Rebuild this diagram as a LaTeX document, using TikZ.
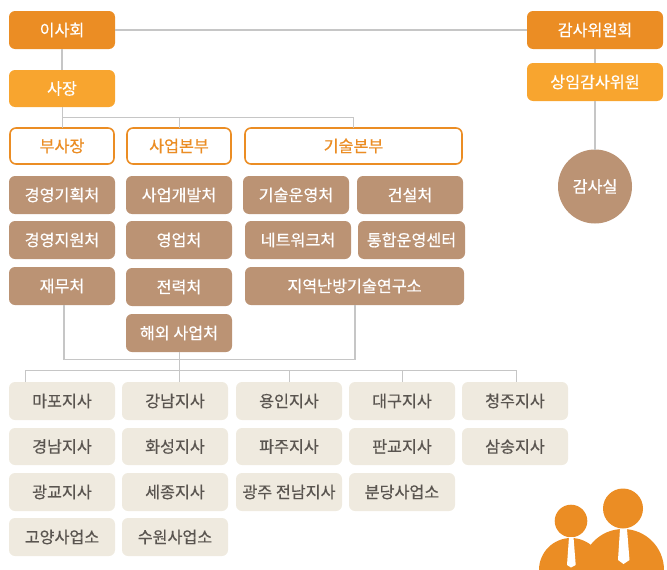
\documentclass[tikz,border=0pt]{standalone}
\usepackage{fontspec}
\setmainfont[RawFeature={embolden=0.5}]{Noto Sans CJK KR}
\definecolor{cdark}{HTML}{EB8D24}
\definecolor{clight}{HTML}{F8A52F}
\definecolor{cbrown}{HTML}{BB9374}
\definecolor{cpale}{HTML}{EFEADF}
\definecolor{cline}{HTML}{C6C6C6}
\definecolor{ctext}{HTML}{5A5550}
\tikzset{
 x=1pt,y=-1pt,
 lbl/.style={font=\fontsize{16.2}{17}\selectfont},
 base/.style={rectangle,rounded corners=6pt,inner sep=0pt,outer sep=0pt,lbl},
 dark/.style={base,fill=cdark,text=white},
 light/.style={base,fill=clight,text=white},
 brown/.style={base,fill=cbrown,text=white},
 pale/.style={base,fill=cpale,text=ctext},
 outl/.style={base,fill=white,draw=cdark,line width=1.6pt,text=cdark},
 conn/.style={draw=cline,line width=1.3pt},
 thin/.style={draw=cline,line width=1pt},
}
% name, x0, y0, x1, y1, style, text
\newcommand{\bx}[7]{\node[#6,minimum width=#4pt-#2pt,minimum height=#5pt-#3pt] (#1) at ({(#2+#4)/2},{(#3+#5)/2}) {\raisebox{-0.8pt}{#7}};}
\begin{document}
\begin{tikzpicture}
\useasboundingbox (0,0) rectangle (667,570);
\bx{isa}{9}{11}{115}{49}{dark}{이사회}
\bx{ceo}{9}{70}{115}{107}{light}{사장}
\bx{vp}{10}{128}{114}{164}{outl}{부사장}
\bx{biz}{127}{128}{231}{164}{outl}{사업본부}
\bx{tech}{245}{128}{462}{164}{outl}{기술본부}
\bx{a1}{9}{176}{115}{214}{brown}{경영기획처}
\bx{a2}{9}{221}{115}{259}{brown}{경영지원처}
\bx{a3}{9}{267}{115}{305}{brown}{재무처}
\bx{b1}{126}{176}{232}{214}{brown}{사업개발처}
\bx{b2}{126}{221}{232}{259}{brown}{영업처}
\bx{b3}{126}{268}{232}{306}{brown}{전력처}
\bx{b4}{126}{314}{232}{352}{brown}{해외 사업처}
\bx{c1}{243}{176}{349}{214}{brown}{기술운영처}
\bx{c2}{357}{176}{463}{214}{brown}{건설처}
\bx{c3}{245}{221}{351}{259}{brown}{네트워크처}
\bx{c4}{358}{221}{465}{259}{brown}{통합운영센터}
\bx{c5}{245}{267}{464}{305}{brown}{지역난방기술연구소}
\bx{audit}{527}{11}{663}{49}{dark}{감사위원회}
\bx{sang}{527}{63}{663}{101}{light}{상임감사위원}
\node[circle,fill=cbrown,text=white,minimum size=74pt,inner sep=0pt,outer sep=0pt,lbl] (room) at (595,186.5) {\raisebox{-0.8pt}{감사실}};
\bx{d1}{9}{382}{115}{420}{pale}{마포지사}
\bx{d2}{122}{382}{228}{420}{pale}{강남지사}
\bx{d3}{236}{382}{342}{420}{pale}{용인지사}
\bx{d4}{349}{382}{455}{420}{pale}{대구지사}
\bx{d5}{462}{382}{568}{420}{pale}{청주지사}
\bx{e1}{9}{428}{115}{465}{pale}{경남지사}
\bx{e2}{122}{428}{228}{465}{pale}{화성지사}
\bx{e3}{236}{428}{342}{465}{pale}{파주지사}
\bx{e4}{349}{428}{455}{465}{pale}{판교지사}
\bx{e5}{462}{428}{568}{465}{pale}{삼송지사}
\bx{f1}{9}{473}{115}{511}{pale}{광교지사}
\bx{f2}{122}{473}{228}{511}{pale}{세종지사}
\bx{f3}{236}{473}{342}{511}{pale}{광주 전남지사}
\bx{f4}{349}{473}{455}{511}{pale}{분당사업소}
\bx{g1}{9}{518}{115}{556}{pale}{고양사업소}
\bx{g2}{122}{518}{228}{556}{pale}{수원사업소}
% connectors
\draw[conn] (isa.east) -- (audit.west);
\draw[conn] (isa.south) -- (ceo.north);
\draw[conn] (audit.south) -- (sang.north);
\draw[conn] (sang.south) -- (room.north);
\coordinate (busA) at (62,117.5);
\draw[thin] (ceo.south) -- (vp.north);
\draw[thin] (busA) -| (biz.north);
\draw[thin] (busA) -| (tech.north);
\coordinate (a3b) at (64,305);
\coordinate (c5b) at (355,305);
\draw[conn] (a3b) |- (179,359.5) -| (c5b);
\coordinate (busL) at (25,370.5);
\coordinate (busR) at (516,370.5);
\draw[thin] (b4.south) -- (b4.south |- d2.north);
\draw[thin] (25,382) -- (busL) -- (busR) -- (516,382);
\draw[thin] (289,370.5) -- (d3.north);
\draw[thin] (402,370.5) -- (d4.north);
% people
\begin{scope}
\clip (530,480) rectangle (667,570);
\fill[cdark] (571,521) circle (16.3);
\fill[cdark] (623,508.5) circle (20);
\fill[cdark] (571,570) circle (32);
\fill[cdark] (623,570) circle (41);
\end{scope}
\fill[white] (569,537) -- (573.5,537) -- (575.7,565) -- (571,567.5) -- (567,565) -- cycle;
\fill[white] (620,529) -- (627,529) -- (629.5,560) -- (623.5,564) -- (618,560) -- cycle;
\end{tikzpicture}
\end{document}
